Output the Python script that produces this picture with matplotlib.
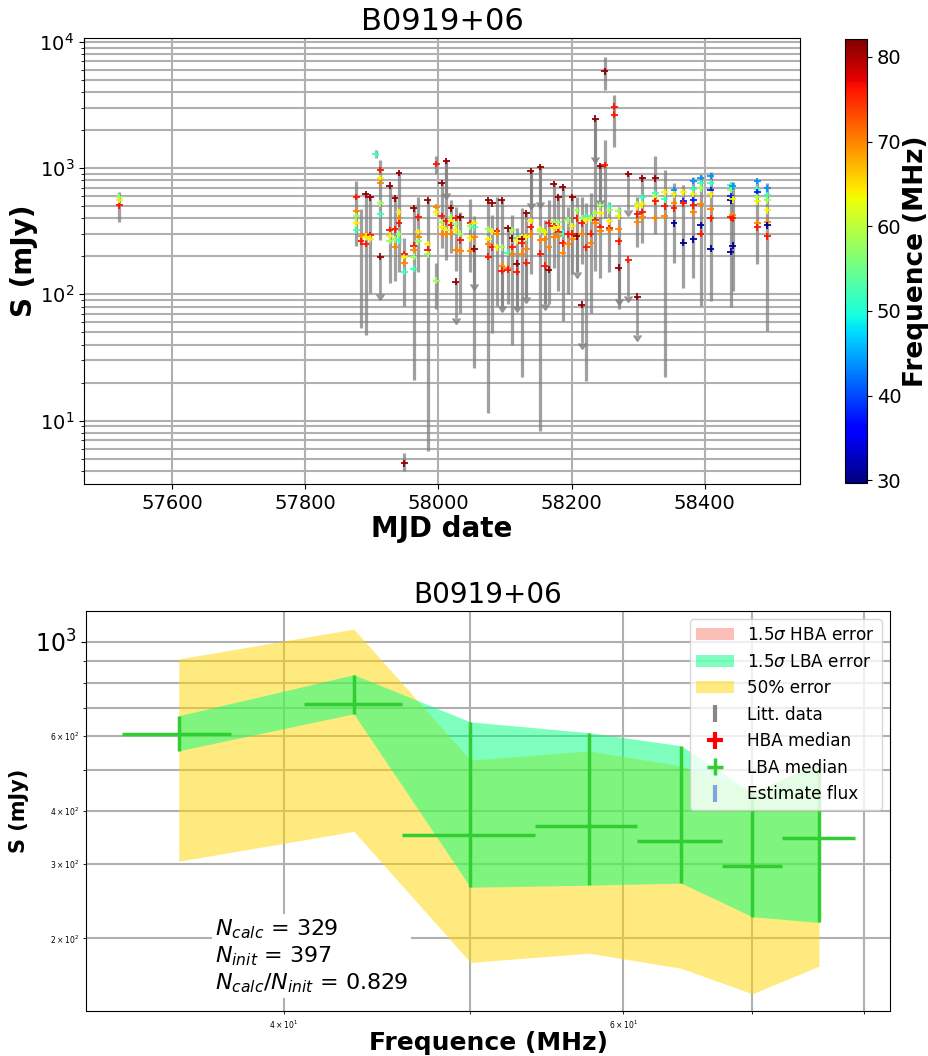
import numpy as np
import matplotlib
matplotlib.use("Agg")
import matplotlib.pyplot as plt
from matplotlib.colors import Normalize
from matplotlib.cm import ScalarMappable
from matplotlib.patches import Patch

source_name = "B0919+06"

# ---------------- top panel data (MJD vs flux, coloured by frequency) ----------------
ep_mjd = [57521, 57877, 57884, 57891, 57898, 57906, 57913, 57927, 57935, 57941,
          57949, 57963, 57970, 57984, 57997, 58005, 58012, 58019, 58026, 58033,
          58048, 58054, 58075, 58081, 58088, 58095, 58104, 58111, 58118, 58125,
          58132, 58139, 58153, 58160, 58166, 58173, 58180, 58187, 58194, 58201,
          58208, 58215, 58222, 58229, 58236, 58243, 58250, 58257, 58264, 58271,
          58285, 58299, 58306, 58326, 58340, 58354, 58368, 58383, 58394, 58409,
          58439, 58442, 58479, 58494]
ep_lo = [372, 243, 54, 48, 103, 1200, 267, 123, 128, 149,
         81, 21, 149, 5.7, 895, 231, 188, 213, 154, 71,
         149, 26, 11.4, 49, 81, 78, 84, 40, 77, 22,
         94, 146, 8.2, 84, 84, 163, 107, 61, 101, 146,
         149, 175, 20.5, 71, 154, 135, 4180, 149, 1470, 77,
         np.nan, 235, 253, 303, 22, 178, 113, 135, 81, 89,
         80, 107, 175, 51]
ep_hi = [644, 790, 470, 620, 587, 1391, 1158, 732, 587, 912,
         277, 490, 587, 556, 1247, 774, 1137, 556, 490, 446,
         566, 414, 556, 422, 587, 556, 333, 422, 333, 480,
         446, 964, 1018, 385, 556, 760, 587, 706, 490, 587,
         587, 587, 526, 632, 2500, 1057, 7540, 536, 3820, 490,
         np.nan, 587, 847, 1247, 964, 760, 732, 847, 880, 929,
         774, 774, 817, 760]
ep_freq = [[76, 64, 58], [76, 70, 58, 64, 52], [70, 76], [81, 70, 64, 76], [81, 76, 64],
           [52], [76, 64, 70, 58, 52, 81], [81, 76, 64, 58], [81, 76, 58, 70],
           [81, 64, 70, 76, 58, 52], [76, 64, 70, 52, 81], [81, 76, 70, 58, 52],
           [76, 64, 70, 58], [81, 64, 76, 58], [76, 70, 64, 58], [81, 76, 58, 64, 70],
           [81, 76, 64, 70], [81, 58, 64, 76, 70], [76, 58, 64, 70, 81], [81, 58, 76, 70],
           [76, 58, 64, 70], [64, 52, 70, 81], [81, 58, 64, 70, 76], [81, 64, 76],
           [76, 70, 64], [81, 58, 70, 76], [81, 52, 70, 76], [58, 81, 76, 70],
           [52, 64, 81, 76], [64, 81, 76, 70], [81, 64, 70, 76], [81, 64, 76, 70],
           [81, 64, 58, 70, 76], [64, 70, 76], [76, 70, 81], [81, 58, 76, 64, 70],
           [81, 58, 64, 76, 70], [81, 52, 76, 70], [58, 76, 70], [81, 64, 76, 70],
           [58, 76, 81], [58, 76, 70, 81], [52, 64, 76], [58, 76, 70], [81, 58, 76, 70],
           [81, 58, 64, 76, 70], [81, 76], [52, 58, 64, 76, 70], [76, 76],
           [58, 64, 70, 76, 81], [81, 76], [58, 64, 76, 70, 81], [81, 52, 64, 76, 70],
           [81, 52, 58, 64, 76, 70], [64, 52, 76, 70], [44, 64, 70, 76, 31],
           [64, 38, 76, 31], [44, 52, 64, 38, 76, 70, 31], [44, 52, 58, 70, 31, 76],
           [44, 52, 38, 64, 70, 76, 31], [52, 58, 38, 31, 76, 31], [52, 44, 64, 70, 76, 31],
           [44, 52, 38, 58, 64, 70, 76], [44, 52, 58, 64, 70, 31, 76]]
ep_flux = [[508, 560, 587], [590, 454, 414, 364, 321], [292, 263], [620, 297, 285, 250],
           [587, 295, 275], [1286], [964, 832, 760, 526, 430, 199], [722, 321, 292, 264],
           [577, 327, 272, 239], [912, 446, 400, 365, 298, 267], [207, 196, 178, 151, 4.6],
           [480, 243, 226, 199, 160], [407, 309, 282, 262], [556, 248, 226, 207],
           [1076, 489, 446, 128], [760, 414, 371, 339, 303], [1137, 378, 321, 298],
           [480, 407, 378, 351, 303], [400, 358, 321, 226, 126], [407, 303, 267, 222],
           [365, 345, 277, 222], [365, 339, 282, 230], [556, 327, 272, 248, 199],
           [526, 315, 235], [315, 303, 235], [556, 235, 169, 154], [333, 214, 163, 157],
           [321, 277, 235, 210], [277, 267, 175, 151], [282, 272, 253, 210],
           [438, 282, 230, 178], [946, 378, 339, 303], [1018, 327, 315, 267, 210],
           [309, 272, 169], [365, 235, 157], [746, 371, 345, 333, 282],
           [587, 371, 339, 309, 292], [706, 303, 253, 214], [385, 298, 248],
           [587, 345, 303, 272], [463, 400, 287], [400, 365, 303, 83], [414, 385, 235],
           [400, 303, 257], [2460, 438, 385, 365], [1037, 507, 438, 339, 315],
           [5820, 1057], [498, 463, 378, 333, 321], [3060, 2640], [454, 414, 327, 263, 163],
           [896, 188], [517, 498, 430, 371, 96], [832, 587, 517, 446, 407],
           [832, 632, 598, 556, 546, 400], [644, 566, 498, 414], [668, 620, 526, 480, 365],
           [644, 546, 526, 257], [788, 680, 620, 556, 507, 446, 272],
           [832, 760, 693, 517, 351, 303], [864, 760, 668, 620, 471, 400, 230],
           [732, 668, 598, 556, 407, 218], [706, 719, 566, 422, 400, 243],
           [788, 680, 644, 587, 546, 365, 339], [693, 609, 556, 463, 371, 351, 287]]

# extra error bars
xb_mjd = [57949, 57997, 58250]
xb_lo = [4.0, 77, 400]
xb_hi = [5.5, 178, 1670]

# upper limits (value and arrow tip)
ul_mjd = [57913, 58012, 58026, 58054, 58095, 58118, 58132, 58139, 58153, 58160,
          58208, 58215, 58236, 58243, 58271, 58285, 58285, 58299]
ul_flux = [199, 1137, 126, 230, 154, 175, 178, 946, 1018, 169,
           287, 83, 2460, 1037, 163, 896, 188, 96]
ul_tip = [101, 632, 65, 121, 81, 81, 95, 526, 536, 84,
          149, 41, 1224, 556, 92, 463, 97, 48]

# ---------------- bottom panel data (spectrum) ----------------
lba_freq = np.array([35.3, 43.5, 50.0, 57.6, 64.3, 70.0, 75.8])
lba_freq_lo = np.array([33.0, 41.0, 46.05, 54.0, 61.0, 67.5, 72.5])
lba_freq_hi = np.array([37.55, 46.05, 54.0, 61.0, 67.5, 72.5, 79.1])
lba_flux = np.array([608, 715, 351, 369, 340, 296, 344])
lba_flux_lo = np.array([554, 677, 264, 267, 270, 225, 218])
lba_flux_hi = np.array([670, 837, 648, 611, 569, 441, 519])
n_calc = 329
n_init = 397

# ---------------- figure ----------------
fig = plt.figure(figsize=(9.29, 10.56), dpi=100)
ax1 = fig.add_axes([0.0904, 0.5417, 0.7707, 0.4223])
cax = fig.add_axes([0.9096, 0.5426, 0.0237, 0.4205])
ax2 = fig.add_axes([0.0926, 0.0426, 0.8654, 0.3788])

norm = Normalize(vmin=29.7, vmax=82.1)
cmap = plt.get_cmap("jet")

ax1.set_yscale("log")
ax1.vlines(ep_mjd, ep_lo, ep_hi, colors="grey", alpha=0.75, lw=2.3, zorder=2)
ax1.vlines(xb_mjd, xb_lo, xb_hi, colors="grey", alpha=0.75, lw=2.3, zorder=2)
ul_flux_a = np.array(ul_flux, dtype=float)
ul_tip_a = np.array(ul_tip, dtype=float)
ax1.errorbar(ul_mjd, ul_flux_a, yerr=[ul_flux_a - ul_tip_a, np.zeros_like(ul_flux_a)],
             uplims=True, fmt="none", ecolor="grey", color="grey", alpha=0.75,
             elinewidth=2.0, capsize=0, zorder=2)

pt_mjd = [m for m, fl in zip(ep_mjd, ep_freq) for _ in fl]
pt_freq = [f for fl in ep_freq for f in fl]
pt_flux = [s for sl in ep_flux for s in sl]
ax1.scatter(pt_mjd, pt_flux, c=pt_freq, cmap=cmap, norm=norm, marker="+",
            s=24, linewidths=1.3, zorder=3)

ax1.set_xlim(57468, 58543)
ax1.set_ylim(3.15, 1.07e4)
ax1.grid(True, which="both", color="#b0b0b0", lw=1.5)
ax1.set_axisbelow(True)
ax1.tick_params(labelsize=14)
ax1.set_xlabel("MJD date", fontsize=20, fontweight="bold", labelpad=2)
ax1.set_ylabel("S (mJy)", fontsize=20, fontweight="bold", labelpad=1)
ax1.set_title(source_name, fontsize=22)

sm = ScalarMappable(norm=norm, cmap=cmap)
cb = fig.colorbar(sm, cax=cax)
cb.set_ticks([30, 40, 50, 60, 70, 80])
cb.ax.tick_params(labelsize=14)
cb.set_label("Frequence (MHz)", fontsize=19, fontweight="bold", labelpad=1)

# bottom panel
ax2.set_xscale("log")
ax2.set_yscale("log")
ax2.fill_between(lba_freq, lba_flux_lo, lba_flux_hi, color="springgreen", alpha=0.5,
                 lw=0, zorder=2)
ax2.fill_between(lba_freq, lba_flux * 0.5, lba_flux * 1.5, color="gold", alpha=0.5,
                 lw=0, zorder=1.5)
nan = np.array([np.nan])
h_litt = ax2.errorbar(nan, nan, yerr=nan, fmt="none", ecolor="dimgrey", elinewidth=3,
                      alpha=0.8)
h_hba = ax2.errorbar(nan, nan, xerr=nan, yerr=nan, fmt="none", ecolor="red",
                     elinewidth=3)
h_lba = ax2.errorbar(lba_freq, lba_flux,
                     xerr=[lba_freq - lba_freq_lo, lba_freq_hi - lba_freq],
                     yerr=[lba_flux - lba_flux_lo, lba_flux_hi - lba_flux],
                     fmt="none", ecolor="limegreen", elinewidth=2.5, zorder=4)
h_est = ax2.errorbar(nan, nan, yerr=nan, fmt="none", ecolor="royalblue", elinewidth=3,
                     alpha=0.6)

handles = [Patch(facecolor="salmon", alpha=0.5),
           Patch(facecolor="springgreen", alpha=0.5),
           Patch(facecolor="gold", alpha=0.5),
           h_litt, h_hba, h_lba, h_est]
labels = [r"1.5$\sigma$ HBA error", r"1.5$\sigma$ LBA error", "50% error",
          "Litt. data", "HBA median", "LBA median", "Estimate flux"]
ax2.legend(handles, labels, loc="upper right", fontsize=12.2, handlelength=2.2)

ax2.set_xlim(31.6, 82.5)
ax2.set_ylim(134.8, 1183)
ax2.grid(True, which="both", color="#b0b0b0", lw=1.5)
ax2.set_axisbelow(True)
ax2.tick_params(which="major", labelsize=17)
ax2.tick_params(which="minor", labelsize=5.5)
ax2.set_xlabel("Frequence (MHz)", fontsize=18, fontweight="bold", labelpad=0)
ax2.set_ylabel("S (mJy)", fontsize=15, fontweight="bold")
ax2.set_title(source_name, fontsize=20)
ax2.text(0.16, 0.04,
         r"$N_{calc}$ = %d" % n_calc + "\n" + r"$N_{init}$ = %d" % n_init + "\n"
         + r"$N_{calc}/N_{init}$ = %.3f" % (n_calc / n_init),
         transform=ax2.transAxes, fontsize=16, va="bottom", ha="left",
         bbox=dict(facecolor="white", edgecolor="none", pad=2), zorder=5)

fig.savefig("out.png", dpi=100)
